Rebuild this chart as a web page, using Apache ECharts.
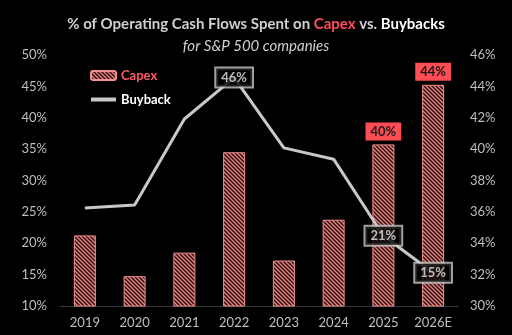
<!DOCTYPE html>
<html><head><meta charset="utf-8">
<script src="https://cdn.jsdelivr.net/npm/echarts@6/dist/echarts.min.js"></script>
<style>html,body{margin:0;padding:0;background:#000;}#c{width:512px;height:335px;}</style>
</head><body><div id="c"></div>
<script>
var categories = ['2019','2020','2021','2022','2023','2024','2025','2026E'];
var capex = [34.5, 31.9, 33.4, 39.8, 32.9, 35.5, 40.3, 44.1];
var buyback = [25.6, 26.1, 39.8, 46.4, 35.2, 33.4, 21.2, 15.3];
var capexLabels = ['', '', '', '', '', '', '40%', '44%'];
var buybackLabels = ['', '', '', '46%', '', '', '21%', '15%'];
var leftTicks = {min: 10, max: 50, interval: 5};
var rightTicks = {min: 30, max: 46, interval: 2};

function makePattern() {
  var c = document.createElement('canvas');
  c.width = 4; c.height = 4;
  var ctx = c.getContext('2d');
  ctx.fillStyle = '#2a0e0e';
  ctx.fillRect(0, 0, 4, 4);
  ctx.strokeStyle = '#ec8682';
  ctx.lineWidth = 1.3;
  ctx.beginPath();
  ctx.moveTo(-1, -1); ctx.lineTo(5, 5);
  ctx.moveTo(-1, 3); ctx.lineTo(1, 5);
  ctx.moveTo(3, -1); ctx.lineTo(5, 1);
  ctx.stroke();
  return c;
}
var pattern = {image: makePattern(), repeat: 'repeat'};
var font = 'Lato, "Open Sans", sans-serif';

var capexData = capex.map(function (v, i) {
  var d = {value: v};
  if (capexLabels[i]) {
    d.label = {
      show: true, position: 'top', distance: 4, formatter: capexLabels[i],
      backgroundColor: '#ff4d55', color: '#1a1a1a', fontWeight: 'bold',
      fontSize: 13, fontFamily: font, padding: [3, 5, 2, 5]
    };
  }
  return d;
});
var labelData = buyback.map(function (v, i) {
  if (!buybackLabels[i]) return {value: [categories[i], v], label: {show: false}};
  return {value: [categories[i], v], label: {
    show: true, position: 'inside', formatter: buybackLabels[i],
    backgroundColor: '#000', borderColor: '#c8c8c8', borderWidth: 2,
    color: '#e6e6e6', fontWeight: 'bold', fontSize: 13, fontFamily: font,
    padding: [3, 5, 2, 5]
  }};
});

var chart = echarts.init(document.getElementById('c'));
chart.setOption({
  backgroundColor: '#000',
  animation: false,
  title: [{
    left: 'center', top: 12,
    text: '{a|% of Operating Cash Flows Spent on }{b|Capex}{a| vs. }{c|Buybacks}',
    textStyle: {
      rich: {
        a: {color: '#d0d0d0', fontSize: 15, fontFamily: font},
        b: {color: '#ff4d5a', fontSize: 15, fontWeight: 'bold', fontFamily: font},
        c: {color: '#ffffff', fontSize: 15, fontWeight: 'bold', fontFamily: font}
      }
    }
  }, {
    left: 'center', top: 34,
    text: 'for S&P 500 companies',
    textStyle: {color: '#d0d0d0', fontSize: 15, fontStyle: 'italic', fontWeight: 'normal', fontFamily: font}
  }],
  legend: {
    orient: 'vertical', left: 84, top: 64, itemWidth: 25, itemHeight: 9, itemGap: 11,
    data: [
      {name: 'Capex', textStyle: {color: '#ff5a64', fontSize: 13, fontWeight: 'bold', fontFamily: font}},
      {name: 'Buyback', itemStyle: {opacity: 0}, lineStyle: {width: 4, color: '#c8c8c8'},
       textStyle: {color: '#ffffff', fontSize: 13, fontWeight: 'bold', fontFamily: font}}
    ]
  },
  grid: {left: 60, right: 54, top: 55, bottom: 29},
  xAxis: {
    type: 'category', data: categories,
    axisLine: {lineStyle: {color: '#3a3a3a', width: 1}},
    axisTick: {show: false},
    axisLabel: {color: '#bfbfbf', fontSize: 13, margin: 10, fontFamily: font}
  },
  yAxis: [{
    type: 'value', min: leftTicks.min, max: leftTicks.max, interval: leftTicks.interval,
    splitLine: {show: false}, axisLine: {show: false}, axisTick: {show: false},
    axisLabel: {color: '#bfbfbf', fontSize: 13, margin: 13, fontFamily: font, formatter: '{value}%'}
  }, {
    type: 'value', min: rightTicks.min, max: rightTicks.max, interval: rightTicks.interval,
    splitLine: {show: false}, axisLine: {show: false}, axisTick: {show: false},
    axisLabel: {color: '#bfbfbf', fontSize: 13, margin: 12, fontFamily: font, formatter: '{value}%'}
  }],
  series: [{
    name: 'Capex', type: 'bar', yAxisIndex: 1, data: capexData, barWidth: 22,
    itemStyle: {color: pattern, borderColor: '#f09090', borderWidth: 1}
  }, {
    name: 'Buyback', type: 'line', yAxisIndex: 0, data: buyback,
    symbol: 'none', z: 5,
    lineStyle: {color: '#c8c8c8', width: 3},
    itemStyle: {color: '#c8c8c8'}
  }, {
    name: 'BuybackLabels', type: 'scatter', yAxisIndex: 0, data: labelData,
    symbolSize: 1, z: 6, itemStyle: {color: 'rgba(0,0,0,0)'}, silent: true
  }]
});
</script></body></html>
